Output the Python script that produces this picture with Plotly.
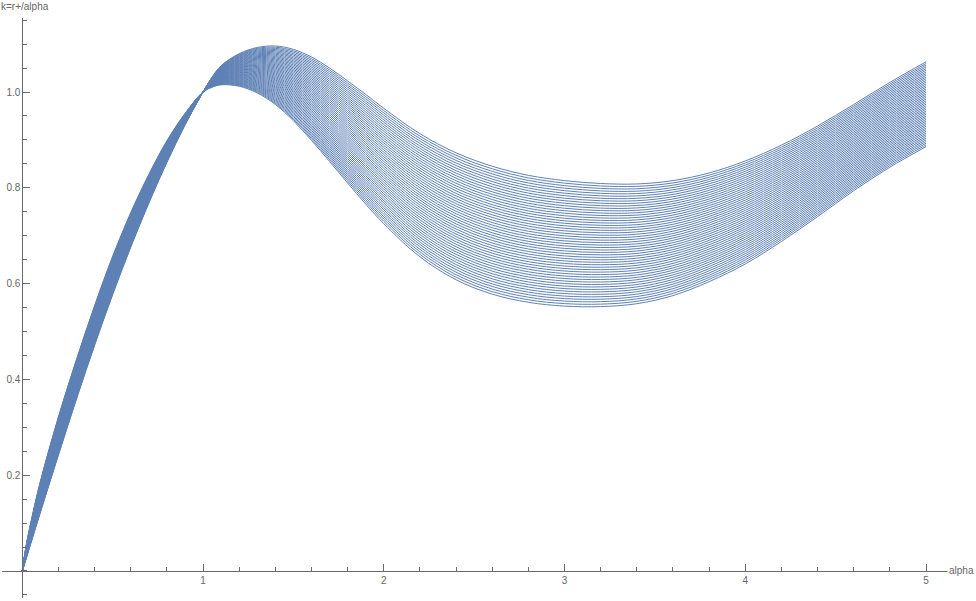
"""
Family of k = r+/alpha curves, redrawn in the Mathematica style:
axes crossing at the origin, inside ticks, thin blue lines.
"""

import plotly.graph_objects as go

# ---------------------------------------------------------------------------
# Data
# ---------------------------------------------------------------------------

ALPHA = [0.0, 0.02, 0.05, 0.1, 0.2, 0.3, 0.4, 0.5, 0.6, 0.7, 0.8, 0.9, 1.0,
         1.05, 1.1, 1.2, 1.3, 1.4, 1.5, 1.6, 1.7, 1.8, 1.9, 2.0, 2.2, 2.4,
         2.6, 2.8, 3.0, 3.2, 3.4, 3.6, 3.8, 4.0, 4.2, 4.4, 4.6, 4.8, 5.0]

# curve that is lowest for alpha < 1 and highest for alpha > 1
K_OUTER = [0.0, 0.024, 0.061, 0.122, 0.242, 0.359, 0.471, 0.577, 0.676, 0.768,
           0.853, 0.931, 1.0,
           1.031, 1.055, 1.080, 1.093, 1.096, 1.089, 1.073, 1.050, 1.023, 0.995,
           0.966, 0.913, 0.873, 0.845, 0.826, 0.815, 0.809, 0.808, 0.815,
           0.831, 0.856, 0.889, 0.929, 0.974, 1.020, 1.063]

# curve that is highest for alpha < 1 and lowest for alpha > 1
K_INNER = [0.0, 0.050, 0.106, 0.187, 0.322, 0.442, 0.554, 0.657, 0.748, 0.828,
           0.898, 0.955, 1.0,
           1.010, 1.015, 1.012, 0.998, 0.974, 0.940, 0.899, 0.855, 0.810,
           0.766, 0.725, 0.656, 0.608, 0.578, 0.561, 0.553, 0.552, 0.558,
           0.575, 0.604, 0.641, 0.688, 0.740, 0.794, 0.843, 0.886]

N_CURVES = 51

X_TICKS = [1, 2, 3, 4, 5]
Y_TICKS = [0.2, 0.4, 0.6, 0.8, 1.0]
Y_TICK_TEXT = ["0.2", "0.4", "0.6", "0.8", "1.0"]

# ---------------------------------------------------------------------------
# Plotting
# ---------------------------------------------------------------------------

LINE_COLOUR = "#5E81B5"
AXIS_COLOUR = "#6a6a6a"
LABEL_COLOUR = "#666666"
FONT = "Liberation Sans"

W, H = 976, 601
M = dict(l=2, r=2, t=18, b=3)

# pixel calibration: alpha=0 -> 22.3 px, 1 unit = 180.74 px; k=0 -> 571 px, 1 unit = 479 px
X_RANGE = [-0.1123, 5.2655]
Y_RANGE = [-0.0564, 1.1545]

fig = go.Figure()

# the band is a fan of curves between the two envelopes read above
for i in range(N_CURVES):
    t = i / (N_CURVES - 1)
    ys = [lo + t * (hi - lo) for lo, hi in zip(K_INNER, K_OUTER)]
    fig.add_trace(
        go.Scatter(
            x=ALPHA,
            y=ys,
            mode="lines",
            line=dict(color=LINE_COLOUR, width=1, shape="spline", smoothing=1),
            showlegend=False,
            hoverinfo="skip",
        )
    )

x_axis_pos = (0 - Y_RANGE[0]) / (Y_RANGE[1] - Y_RANGE[0])
y_axis_pos = (0 - X_RANGE[0]) / (X_RANGE[1] - X_RANGE[0])

common = dict(
    anchor="free",
    showgrid=False,
    zeroline=False,
    showline=True,
    linecolor=AXIS_COLOUR,
    linewidth=1,
    tickmode="array",
    ticks="inside",
    ticklen=7,
    tickcolor=AXIS_COLOUR,
    tickfont=dict(family=FONT, size=10, color=LABEL_COLOUR),
)

fig.update_xaxes(
    range=X_RANGE,
    position=x_axis_pos,
    tickvals=X_TICKS,
    ticktext=[str(v) for v in X_TICKS],
    minor=dict(tick0=0, dtick=0.2, ticks="inside", ticklen=4, tickcolor=AXIS_COLOUR),
    **common,
)
fig.update_yaxes(
    range=Y_RANGE,
    position=y_axis_pos,
    tickvals=Y_TICKS,
    ticktext=Y_TICK_TEXT,
    minor=dict(tick0=0, dtick=0.05, ticks="inside", ticklen=4, tickcolor=AXIS_COLOUR),
    **common,
)

fig.add_annotation(
    text="alpha", xref="paper", x=1, xshift=2, yref="y", y=0,
    xanchor="right", yanchor="middle", showarrow=False,
    bgcolor="white", font=dict(family=FONT, size=10, color=LABEL_COLOUR),
)
fig.add_annotation(
    text="k=r+/alpha", xref="paper", x=0, xshift=-3, yref="paper", y=1,
    xanchor="left", yanchor="bottom", yshift=4, showarrow=False,
    font=dict(family=FONT, size=10, color=LABEL_COLOUR),
)

fig.update_layout(
    width=W,
    height=H,
    margin=M,
    plot_bgcolor="white",
    paper_bgcolor="white",
)

# drop the browser's default 8px body margin so the figure sits at the corner
fig.write_html(
    "out.html",
    config={"displayModeBar": False},
    post_script="document.body.style.margin = '0';",
)
